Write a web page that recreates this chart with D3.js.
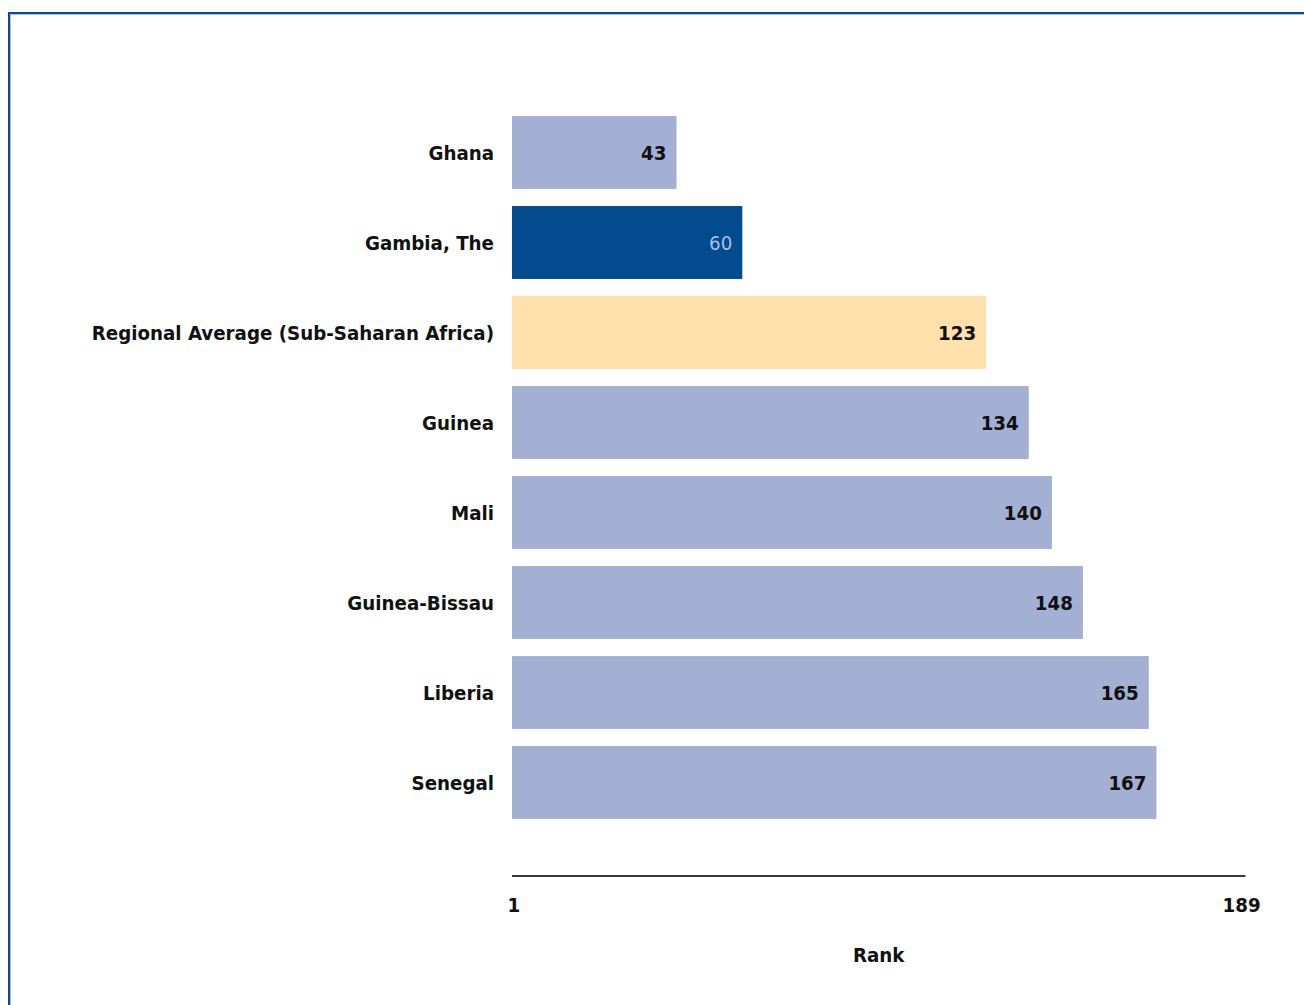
<!DOCTYPE html>
<html>
<head>
<meta charset="utf-8">
<script src="https://cdn.jsdelivr.net/npm/d3@7"></script>
<style>
  html, body { margin: 0; padding: 0; background: #ffffff; }
  svg { display: block; }
  text { font-family: "DejaVu Sans Condensed", "DejaVu Sans", sans-serif; font-stretch: condensed; }
</style>
</head>
<body>
<svg id="chart" width="1304" height="1005"></svg>
<script>
// ---- data ----
const categories = ["Ghana", "Gambia, The", "Regional Average (Sub-Saharan Africa)", "Guinea", "Mali", "Guinea-Bissau", "Liberia", "Senegal"];
const ranks = [43, 60, 123, 134, 140, 148, 165, 167];
const barKinds = ["peer", "focus", "regional", "peer", "peer", "peer", "peer", "peer"];
const axisTickLabels = [1, 189];
const axisTitle = "Rank";

// ---- styling ----
const colors = { peer: "#a4b0d3", focus: "#024b8e", regional: "#fee0aa" };
const valueColors = { peer: "#111111", focus: "#aabde2", regional: "#111111" };
const valueWeights = { peer: 700, focus: 400, regional: 700 };
const FS = 20.3;

const svg = d3.select("#chart");

// frame
svg.append("line").attr("x1", 8).attr("x2", 1304).attr("y1", 13).attr("y2", 13)
  .attr("stroke", "#0b4c90").attr("stroke-width", 2);
svg.append("line").attr("x1", 9).attr("x2", 9).attr("y1", 12).attr("y2", 1005)
  .attr("stroke", "#0b4c90").attr("stroke-width", 2);
svg.append("line").attr("x1", 10).attr("x2", 1304).attr("y1", 14.5).attr("y2", 14.5)
  .attr("stroke", "#a9c3e6").attr("stroke-width", 1);
svg.append("line").attr("x1", 10.5).attr("x2", 10.5).attr("y1", 14).attr("y2", 1005)
  .attr("stroke", "#a9c3e6").attr("stroke-width", 1);

const x = d3.scaleLinear().domain([0.5, 190]).range([512, 1245.5]);
const y = d3.scaleBand().domain(categories).range([107.5, 827.5])
  .paddingInner(0.19).paddingOuter(0.095);

const data = categories.map((c, i) => ({ cat: c, v: ranks[i], kind: barKinds[i] }));

// bars
svg.append("g").selectAll("rect").data(data).join("rect")
  .attr("x", x(0.5))
  .attr("y", d => y(d.cat))
  .attr("width", d => x(d.v) - x(0.5))
  .attr("height", y.bandwidth())
  .attr("fill", d => colors[d.kind]);

// value labels
svg.append("g").selectAll("text").data(data).join("text")
  .attr("x", d => x(d.v) - 10)
  .attr("y", d => y(d.cat) + y.bandwidth() / 2)
  .attr("dy", "0.36em")
  .attr("text-anchor", "end")
  .attr("font-size", FS)
  .attr("font-weight", d => valueWeights[d.kind])
  .attr("fill", d => valueColors[d.kind])
  .text(d => d.v);

// category labels
svg.append("g").selectAll("text").data(data).join("text")
  .attr("x", 494)
  .attr("y", d => y(d.cat) + y.bandwidth() / 2)
  .attr("dy", "0.36em")
  .attr("text-anchor", "end")
  .attr("font-size", FS)
  .attr("font-weight", 700)
  .attr("fill", "#111111")
  .text(d => d.cat);

// x axis
const axisY = 876;
svg.append("line")
  .attr("x1", x.range()[0]).attr("x2", x.range()[1])
  .attr("y1", axisY).attr("y2", axisY)
  .attr("stroke", "#3a3a3a").attr("stroke-width", 2);

svg.append("g").selectAll("text").data(axisTickLabels).join("text")
  .attr("x", d => x(d))
  .attr("y", 905)
  .attr("dy", "0.36em")
  .attr("text-anchor", "middle")
  .attr("font-size", FS)
  .attr("font-weight", 700)
  .attr("fill", "#111111")
  .text(d => d);

svg.append("text")
  .attr("x", (x.range()[0] + x.range()[1]) / 2)
  .attr("y", 955)
  .attr("dy", "0.36em")
  .attr("text-anchor", "middle")
  .attr("font-size", FS)
  .attr("font-weight", 700)
  .attr("fill", "#111111")
  .text(axisTitle);
</script>
</body>
</html>
